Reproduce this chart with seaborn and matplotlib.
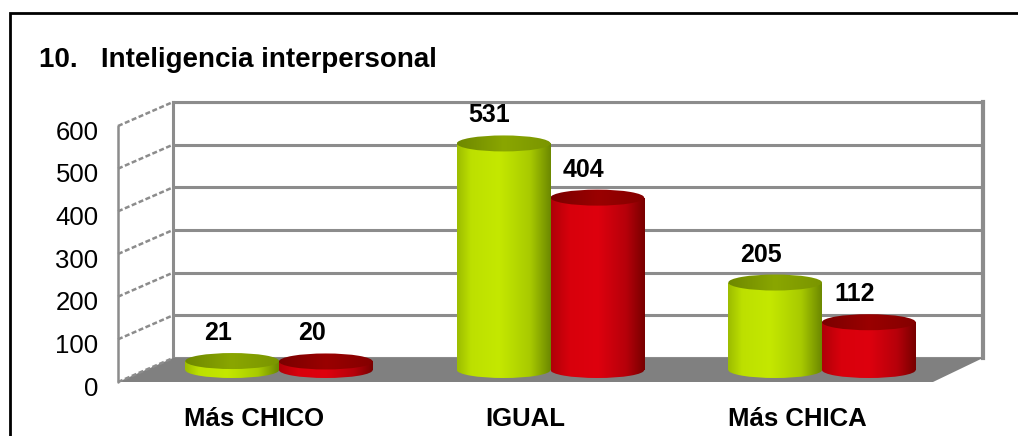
import numpy as np
import pandas as pd
import matplotlib
matplotlib.use("Agg")
import matplotlib.pyplot as plt
import matplotlib.transforms as mtransforms
import seaborn as sns
from matplotlib.patches import Ellipse, Polygon, Rectangle
from matplotlib.lines import Line2D
from matplotlib.colors import LinearSegmentedColormap

# ---- data ----
categories = ["Más CHICO", "IGUAL", "Más CHICA"]
series_names = ["Serie 1", "Serie 2"]
serie1 = [21, 531, 205]
serie2 = [20, 404, 112]
y_ticks = [0, 100, 200, 300, 400, 500, 600]
title = "10.   Inteligencia interpersonal"

sns.set_style("white")
plt.rcParams['font.family'] = ['Liberation Sans', 'DejaVu Sans']
plt.rcParams['text.color'] = 'black'
plt.rcParams['xtick.color'] = 'black'
plt.rcParams['ytick.color'] = 'black'
plt.rcParams['xtick.labelcolor'] = 'black'
plt.rcParams['ytick.labelcolor'] = 'black'

W, H = 1018, 436
fig = plt.figure(figsize=(W / 100, H / 100), dpi=100)
fig.patch.set_facecolor("white")


def fx(x):
    return x / W


def fy(y):
    return 1 - y / H


YMAX = 600
SCALE = 256 / YMAX  # px per unit

# ---- back wall ----
ax_back = fig.add_axes([fx(173), fy(358), fx(983 - 173), 256 / H])
ax_back.set_zorder(0)
ax_back.set_ylim(0, YMAX)
ax_back.set_xlim(0, 1)
ax_back.set_yticks(y_ticks)
ax_back.set_xticks([])
ax_back.tick_params(length=0, labelleft=False)
ax_back.grid(axis="y", color="#8c8c8c", lw=2.2)
ax_back.set_axisbelow(True)
for s in ["left", "top", "right"]:
    ax_back.spines[s].set_color("#8c8c8c")
    ax_back.spines[s].set_linewidth(2.2)
ax_back.spines["right"].set_linewidth(3)
ax_back.spines["bottom"].set_visible(False)

# ---- floor and left wall (figure coords) ----
floor = Polygon([(fx(118), fy(382)), (fx(933), fy(382)), (fx(983), fy(358)), (fx(173), fy(358))],
                closed=True, transform=fig.transFigure, facecolor="#808080", edgecolor="none", zorder=1)
fig.add_artist(floor)
for t in y_ticks:
    yf = 382 - t * SCALE
    yb = 358 - t * SCALE
    fig.add_artist(Line2D([fx(118), fx(173)], [fy(yf), fy(yb)], transform=fig.transFigure,
                          color="#8c8c8c", lw=1.8, ls=(0, (2, 1)), zorder=1))
fig.add_artist(Line2D([fx(118), fx(118)], [fy(382), fy(382 - YMAX * SCALE)], transform=fig.transFigure,
                      color="#8c8c8c", lw=1.8, zorder=1))

# outer frame
fig.add_artist(Rectangle((fx(10), fy(460)), fx(1040), 447 / H, transform=fig.transFigure,
                         fill=False, edgecolor="black", lw=2, zorder=10))

# ---- front axes for tick labels ----
ax_front = fig.add_axes([fx(118), fy(382), fx(815), 256 / H])
ax_front.set_zorder(2)
ax_front.patch.set_alpha(0)
ax_front.set_xlim(-0.5, 2.5)
ax_front.set_ylim(0, YMAX)
ax_front.set_yticks(y_ticks)
ax_front.set_yticklabels([str(t) for t in y_ticks], fontsize=18.5, color="black")
ax_front.set_xticks(range(len(categories)))
ax_front.set_xticklabels(categories, fontsize=18.5, fontweight="bold", color="black")
ax_front.tick_params(axis="y", length=0, pad=14)
ax_front.tick_params(axis="x", length=0, pad=18)
for s in ax_front.spines.values():
    s.set_visible(False)
offset = mtransforms.ScaledTranslation(0, -4 / 100, fig.dpi_scale_trans)
for lab in ax_front.get_yticklabels():
    lab.set_transform(lab.get_transform() + offset)

# ---- bars ----
df = pd.DataFrame({
    "cat": categories * 2,
    "serie": [series_names[0]] * 3 + [series_names[1]] * 3,
    "val": serie1 + serie2,
})
YLOW = -30
ax = fig.add_axes([fx(143.25), fy(370 - YLOW * SCALE), fx(814.5), (YMAX - YLOW) * SCALE / H])
ax.set_zorder(3)
ax.patch.set_alpha(0)
sns.barplot(data=df, x="cat", y="val", hue="serie", order=categories, hue_order=series_names,
            palette=["#bde000", "#d9000d"], width=0.69, gap=0, legend=False, ax=ax)

cmaps = {
    0: LinearSegmentedColormap.from_list("g", [(0, "#9cbc00"), (0.15, "#bde000"), (0.45, "#c4e800"),
                                              (0.78, "#a8ca00"), (1, "#6c8800")]),
    1: LinearSegmentedColormap.from_list("r", [(0, "#b00008"), (0.2, "#d8000c"), (0.5, "#de000e"),
                                              (0.8, "#b6000a"), (1, "#780000")]),
}
cap_cmaps = {
    0: LinearSegmentedColormap.from_list("gc", ["#6e8800", "#8aa600", "#7a9500"]),
    1: LinearSegmentedColormap.from_list("rc", ["#7a0000", "#9a0000", "#840000"]),
}
grad = np.linspace(0, 1, 256).reshape(1, -1)
ELL = 16 / SCALE  # ellipse height in data units


def fill_grad(patch, cmap, x0, x1, y0, y1, z):
    im = ax.imshow(grad, cmap=cmap, extent=[x0, x1, y0, y1], aspect="auto",
                   origin="lower", zorder=z, interpolation="bicubic")
    im.set_clip_path(patch)


bars = list(ax.patches)
vals = serie1 + serie2
for i, p in enumerate(bars):
    s = 0 if i < 3 else 1
    x0 = p.get_x()
    w = p.get_width()
    h = p.get_height()
    cx = x0 + w / 2
    p.set_facecolor("none")
    p.set_edgecolor("none")
    z = 3 + (1 if s == 0 else 0)
    body = Rectangle((x0, 0), w, h, transform=ax.transData, facecolor="none", edgecolor="none")
    ax.add_patch(body)
    bot = Ellipse((cx, 0), w, ELL, transform=ax.transData, facecolor="none", edgecolor="none")
    ax.add_patch(bot)
    top = Ellipse((cx, h), w, ELL, transform=ax.transData, facecolor="none", edgecolor="none")
    ax.add_patch(top)
    fill_grad(body, cmaps[s], x0, x0 + w, -ELL, h + ELL, z)
    fill_grad(bot, cmaps[s], x0, x0 + w, -ELL, h + ELL, z)
    fill_grad(top, cap_cmaps[s], x0, x0 + w, -ELL, h + ELL, z + 0.1)
    ax.annotate(f"{vals[i]}", (cx, h), xytext=(-14, 28), textcoords="offset pixels",
                ha="center", va="center", fontsize=18, fontweight="bold", color="black", zorder=10)

ax.set_xlim(-0.5, 2.5)
ax.set_ylim(YLOW, YMAX)
ax.set_axis_off()

fig.text(fx(39), fy(60), title, fontsize=20, fontweight="bold", va="center", ha="left", color="black")

fig.savefig("out.png", dpi=100)
